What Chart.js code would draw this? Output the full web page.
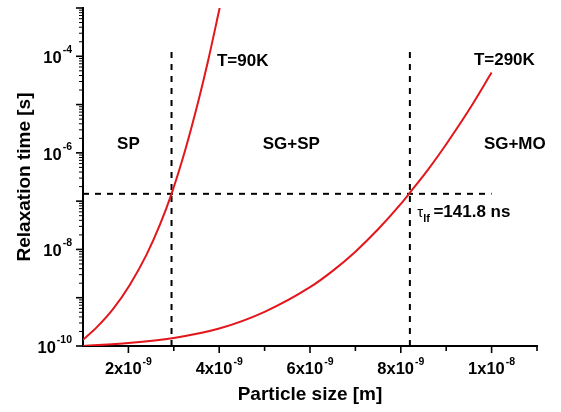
<!DOCTYPE html>
<html>
<head>
<meta charset="utf-8">
<script src="https://cdn.jsdelivr.net/npm/chart.js@4.4.0/dist/chart.umd.min.js"></script>
<style>
  body { margin: 0; background: #fff; }
</style>
</head>
<body>
<canvas id="relaxChart" width="561" height="412"></canvas>
<script>
// values: particle size [m] -> relaxation time [s]
var size90 = [1e-9, 1.3e-9, 1.66e-9, 2.03e-9, 2.4e-9, 2.69e-9, 2.95e-9, 3.25e-9, 3.54e-9, 3.75e-9, 4e-9, 4.05e-9];
var tau90 = [1.35e-10, 2.43e-10, 5.8e-10, 1.84e-9, 7.8e-9, 3.18e-8, 1.418e-7, 1.13e-6, 1.17e-5, 7.7e-5, 9.1e-4, 1.5e-3];

var size290 = [1e-9, 2e-9, 3e-9, 4e-9, 5e-9, 6e-9, 6.5e-9, 7e-9, 7.5e-9, 8e-9, 8.18e-9, 8.6e-9, 9e-9, 9.5e-9, 1e-8];
var tau290 = [1e-10, 1.15e-10, 1.47e-10, 2.3e-10, 5.1e-10, 1.65e-9, 3.6e-9, 9e-9, 2.61e-8, 8.75e-8, 1.418e-7, 4.5e-7, 1.51e-6, 7.7e-6, 4.6e-5];

// measuring window and critical sizes
var tauLf = 1.418e-7;
var criticalSizes = [2.95e-9, 8.2e-9];
var guideTop = 1.48e-4;

// axis ticks
var xMajor = [2e-9, 4e-9, 6e-9, 8e-9, 1e-8];
var xMajorText = ['2x10', '4x10', '6x10', '8x10', '1x10'];
var xMajorExp = ['-9', '-9', '-9', '-9', '-8'];
var xMinor = [3e-9, 5e-9, 7e-9, 9e-9, 1.1e-8];
var yExpRange = [-10, -3];
var yLabelExps = [-10, -8, -6, -4];

var FONT = '"Liberation Sans", Arial, sans-serif';
var RED = '#e3161b';

function pts(xs, ys) {
  return xs.map(function (x, i) { return { x: x, y: ys[i] }; });
}

function dashed(data) {
  return {
    data: data, borderColor: '#000', borderWidth: 2, borderDash: [6, 6],
    pointRadius: 0, tension: 0, fill: false
  };
}

// text drawn on the plot, placed in data coordinates (y as log10)
var notes = [
  { text: 'T=90K', x: 3.95e-9, y: -4.195 },
  { text: 'T=290K', x: 9.61e-9, y: -4.18 },
  { text: 'SP', x: 1.75e-9, y: -5.93 },
  { text: 'SG+SP', x: 4.96e-9, y: -5.93 },
  { text: 'SG+MO', x: 9.83e-9, y: -5.93 }
];
var tauNote = { x: 8.363e-9, y: -7.322 };

function sci(ctx, main, exp, x, base, expBase, align) {
  ctx.font = 'bold 16.5px ' + FONT;
  var w1 = ctx.measureText(main).width;
  ctx.font = 'bold 10.5px ' + FONT;
  var w2 = ctx.measureText(exp).width;
  var total = w1 + 1 + w2;
  var start = align === 'right' ? x - total : x - total / 2;
  ctx.textAlign = 'left';
  ctx.textBaseline = 'alphabetic';
  ctx.font = 'bold 16.5px ' + FONT;
  ctx.fillText(main, start, base);
  ctx.font = 'bold 10.5px ' + FONT;
  ctx.fillText(exp, start + w1 + 1, expBase);
}

var sciAxes = {
  id: 'sciAxes',
  afterDraw: function (chart) {
    var ctx = chart.ctx;
    var xs = chart.scales.x, ys = chart.scales.y;
    var axisX = ys.right, axisY = xs.top;
    ctx.save();
    ctx.strokeStyle = '#000';
    ctx.fillStyle = '#000';

    // y ticks, log decades with minor marks
    for (var e = yExpRange[0]; e <= yExpRange[1]; e++) {
      for (var m = 1; m <= 9; m++) {
        var v = m * Math.pow(10, e);
        if (v > ys.max * 1.001) break;
        var py = ys.getPixelForValue(v);
        ctx.lineWidth = m === 1 ? 1.6 : 1;
        ctx.beginPath();
        ctx.moveTo(axisX - (m === 1 ? 7 : 4), py);
        ctx.lineTo(axisX, py);
        ctx.stroke();
      }
    }
    yLabelExps.forEach(function (e) {
      var py = ys.getPixelForValue(Math.pow(10, e));
      sci(ctx, '10', String(e), axisX - 11, py + 7, py - 3, 'right');
    });

    // x ticks
    ctx.lineWidth = 1.6;
    xMajor.concat(xMinor).forEach(function (v, i) {
      var px = xs.getPixelForValue(v);
      ctx.beginPath();
      ctx.moveTo(px, axisY);
      ctx.lineTo(px, axisY + (i < xMajor.length ? 7 : 5));
      ctx.stroke();
    });
    xMajor.forEach(function (v, i) {
      var px = xs.getPixelForValue(v);
      sci(ctx, xMajorText[i], xMajorExp[i], px, axisY + 28, axisY + 19, 'center');
    });

    // region and temperature labels
    ctx.textAlign = 'left';
    ctx.textBaseline = 'alphabetic';
    ctx.font = 'bold 17px ' + FONT;
    notes.forEach(function (n) {
      ctx.fillText(n.text, xs.getPixelForValue(n.x), ys.getPixelForValue(Math.pow(10, n.y)));
    });

    // tau_lf label
    var tx = xs.getPixelForValue(tauNote.x);
    var ty = ys.getPixelForValue(Math.pow(10, tauNote.y));
    ctx.font = '15px ' + FONT;
    ctx.fillText('\u03c4', tx, ty);
    tx += ctx.measureText('\u03c4').width;
    ctx.font = 'bold 11px ' + FONT;
    ctx.fillText('lf', tx, ty + 5);
    tx += ctx.measureText('lf').width + 3.5;
    ctx.font = 'bold 17px ' + FONT;
    ctx.fillText('=141.8 ns', tx, ty);
    ctx.restore();
  }
};

var datasets = [
  { data: pts(size90, tau90), borderColor: RED, borderWidth: 2, pointRadius: 0, cubicInterpolationMode: 'monotone', fill: false },
  { data: pts(size290, tau290), borderColor: RED, borderWidth: 2, pointRadius: 0, cubicInterpolationMode: 'monotone', fill: false },
  dashed([{ x: 1e-9, y: tauLf }, { x: 1e-8, y: tauLf }])
];
criticalSizes.forEach(function (d) {
  datasets.push(dashed([{ x: d, y: 1e-10 }, { x: d, y: guideTop }]));
});

var ctx = document.getElementById('relaxChart').getContext('2d');
var relaxChart = new Chart(ctx, {
  type: 'line',
  data: { datasets: datasets },
  options: {
    responsive: false,
    animation: false,
    devicePixelRatio: 1,
    layout: { padding: { top: 8, right: 24, left: 0, bottom: 0 } },
    plugins: { legend: { display: false }, tooltip: { enabled: false } },
    scales: {
      x: {
        type: 'linear', min: 1e-9, max: 1.1e-8,
        grid: { display: false },
        ticks: { display: false },
        border: { color: '#000', width: 2 },
        title: {
          display: true, text: 'Particle size [m]', color: '#000',
          font: { family: FONT, size: 19, weight: 'bold' },
          padding: { top: 0, bottom: 6 }
        },
        afterFit: function (s) { s.height = 66; }
      },
      y: {
        type: 'logarithmic', min: 1e-10, max: 1e-3,
        grid: { display: false },
        ticks: { display: false },
        border: { color: '#000', width: 2 },
        title: {
          display: true, text: 'Relaxation time [s]', color: '#000',
          font: { family: FONT, size: 19, weight: 'bold' },
          padding: { top: 13, bottom: 0 }
        },
        afterFit: function (s) { s.width = 83; }
      }
    }
  },
  plugins: [sciAxes]
});
</script>
</body>
</html>
